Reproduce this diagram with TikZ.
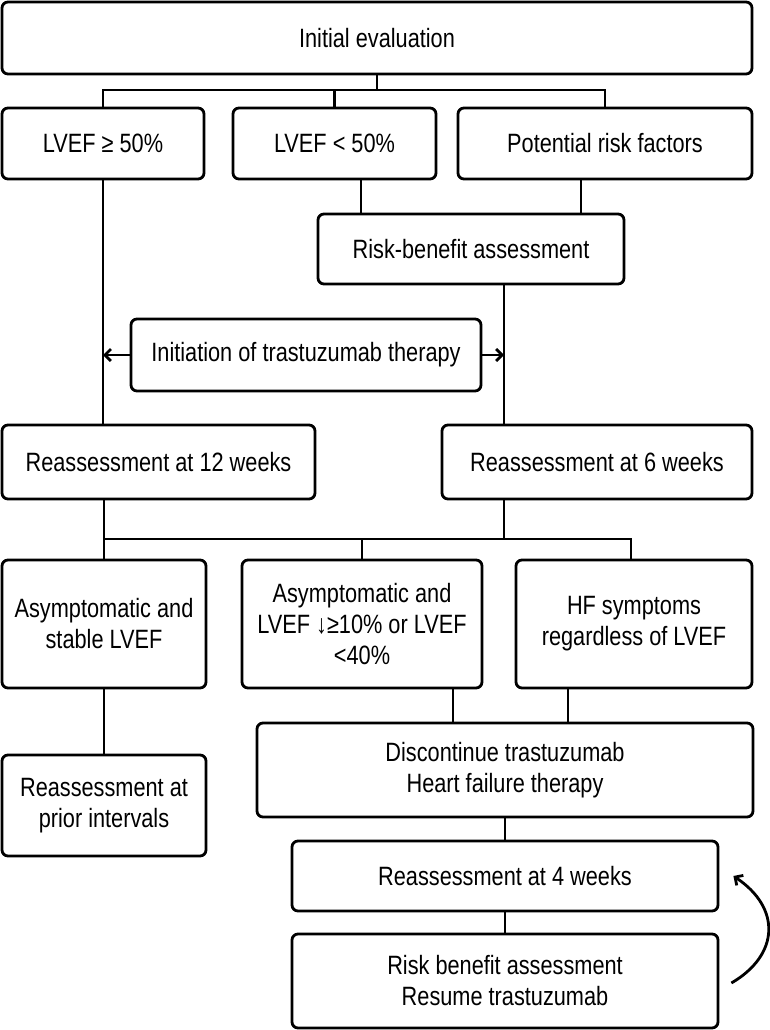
\documentclass[tikz,border=0pt]{standalone}
\usepackage{fontspec}
\setmainfont{Liberation Sans}[FakeStretch=0.82]
\usetikzlibrary{arrows.meta}

\begin{document}
\begin{tikzpicture}[x=1pt,y=-1pt,
        box/.style={draw,line width=2.8pt,rounded corners=6pt,align=center,inner sep=0pt,
            font=\fontsize{26.5}{31}\selectfont},
        link/.style={line width=2.8pt},
        >={Straight Barb[length=6pt,width=12pt]}]

            \useasboundingbox (0,0) rectangle (769,1030);

            \node[box,minimum width=750pt,minimum height=72pt] (init) at (377,38) {Initial evaluation};

            \node[box,minimum width=202pt,minimum height=71pt] (ge) at (103,143.5) {LVEF ≥ 50\%};
            \node[box,minimum width=203pt,minimum height=71pt] (lt) at (334.5,143.5) {LVEF < 50\%};
            \node[box,minimum width=294pt,minimum height=71pt] (risk) at (605,143.5) {Potential risk factors};

            \node[box,minimum width=306pt,minimum height=70pt] (rb) at (471,249) {Risk-benefit assessment};
            \node[box,minimum width=350pt,minimum height=72pt] (start) at (306,355) {Initiation of trastuzumab therapy};

            \node[box,minimum width=313pt,minimum height=74pt] (rw12) at (158.5,462) {Reassessment at 12 weeks};
            \node[box,minimum width=310pt,minimum height=74pt] (rw6) at (597,462) {Reassessment at 6 weeks};

            \node[box,minimum width=204pt,minimum height=128pt] (stable) at (104,624) {Asymptomatic and\\stable LVEF};
            \node[box,minimum width=240pt,minimum height=128pt] (drop) at (362,624) {Asymptomatic and\\LVEF ↓≥10\% or LVEF\\<40\%};
            \node[box,minimum width=236pt,minimum height=128pt] (hf) at (634,624) {HF symptoms\\regardless of LVEF};

            \node[box,minimum width=204pt,minimum height=101pt] (prior) at (104,805.5) {Reassessment at\\prior intervals};
            \node[box,minimum width=496pt,minimum height=94pt] (stop) at (505,770) {Discontinue trastuzumab\\Heart failure therapy};
            \node[box,minimum width=426pt,minimum height=70pt] (rw4) at (505,876) {Reassessment at 4 weeks};
            \node[box,minimum width=426pt,minimum height=94pt] (resume) at (505,981) {Risk benefit assessment\\Resume trastuzumab};

            \coordinate (split1) at (377,90);
            \coordinate (split2) at (504,539);

            \draw[link] (init.south) -- (split1);
            \draw[link] (ge.north) -- (ge.north |- split1) -- (risk.north |- split1) -- (risk.north);
            \draw[link] (lt.north) -- (lt.north |- split1);

            \draw[link] ([xshift=26.5pt]lt.south) -- ([xshift=26.5pt]lt.south |- rb.north);
            \draw[link] ([xshift=-24pt]risk.south) -- ([xshift=-24pt]risk.south |- rb.north);
            \draw[link] (ge.south) -- (ge.south |- rw12.north);
            \draw[link] ([xshift=33pt]rb.south) -- ([xshift=33pt]rb.south |- rw6.north);

            \draw[link,->] (start.west) -- (start.west -| ge.south);
            \draw[link,->] (start.east) -- ([xshift=33pt]rb.south |- start.east);

            \draw[link] (rw12.south -| stable.north) -- (stable.north);
            \draw[link] (rw6.south -| split2) -- (split2);
            \draw[link] (stable.north |- split2) -| ([xshift=-3pt]hf.north);
            \draw[link] (drop.north) -- (drop.north |- split2);

            \draw[link] (stable.south) -- (prior.north);
            \draw[link] ([xshift=91pt]drop.south) -- ([xshift=91pt]drop.south |- stop.north);
            \draw[link] ([xshift=-66pt]hf.south) -- ([xshift=-66pt]hf.south |- stop.north);
            \draw[link] (stop.south) -- (rw4.north);
            \draw[link] (rw4.south) -- (resume.north);

            \draw[link,->] ([xshift=12pt,yshift=-2pt]resume.east) .. controls +(48,-28) and +(48,32) .. ([xshift=14pt]rw4.east);

\end{tikzpicture}
\end{document}
